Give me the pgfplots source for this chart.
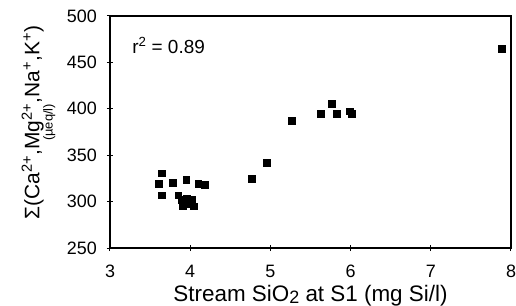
\documentclass[border=0pt]{standalone}
\usepackage{pgfplots}
\pgfplotsset{compat=1.18}
\usepackage{fontspec}
\setmainfont{Liberation Sans}
\newcommand\tickfont{\fontsize{18}{18}\selectfont}
\begin{document}
\begin{tikzpicture}
\path[use as bounding box] (-110bp,-58bp) rectangle (406bp,248bp);
\begin{axis}[
  scale only axis,
  width=401bp, height=232bp,
  xmin=3, xmax=8, ymin=250, ymax=500,
  xtick={3,4,5,6,7,8},
  ytick={250,300,350,400,450,500},
  xticklabels={3,4,5,6,7,8},
  yticklabels={250,300,350,400,450,500},
  xtick pos=bottom, ytick pos=left,
  tick align=center,
  major tick length=6bp,
  axis line style={line width=1.3bp},
  every tick/.style={black, line width=1bp},
  xticklabel style={anchor=base, yshift=-26bp, font=\tickfont},
  yticklabel style={anchor=east, inner sep=0pt, xshift=-10bp, font=\tickfont},
  clip=false,
]
\addplot[only marks, mark=square*, mark size=3.4bp, black] coordinates {
(3.64,330.5) (3.61,319.7) (3.64,307) (3.78,320.4) (3.95,324)
(3.85,307) (3.89,301.7) (3.91,295) (3.96,303.5) (3.98,298)
(4.02,301.7) (4.04,295) (4.10,319.7) (4.18,318.6)
(4.77,325) (4.95,342) (5.27,387) (5.63,394.4) (5.76,405.9)
(5.83,394.4) (6.01,395) (5.99,397.5) (7.88,464.4)
};
\node[anchor=base west, inner sep=0pt, font=\fontsize{19}{19}\selectfont] at (axis description cs:0.055,0.84) {r\textsuperscript{2} = 0.89};
\node[anchor=base, inner sep=0pt, font=\fontsize{22.5}{22.5}\selectfont] at (axis description cs:0.5,-0.229) {Stream SiO\raisebox{-0.2ex}{\fontsize{18}{18}\selectfont 2} at S1 (mg Si/l)};
\node[anchor=base, rotate=90, inner sep=0pt, font=\fontsize{21}{21}\selectfont] at (axis description cs:-0.176,0.541) {Σ(Ca\textsuperscript{2+},Mg\textsuperscript{2+},Na\textsuperscript{+},K\textsuperscript{+})};
\node[anchor=base, rotate=90, inner sep=0pt, font=\fontsize{13}{13}\selectfont] at (axis description cs:-0.143,0.541) {(µeq/l)};
\end{axis}
\end{tikzpicture}
\end{document}
